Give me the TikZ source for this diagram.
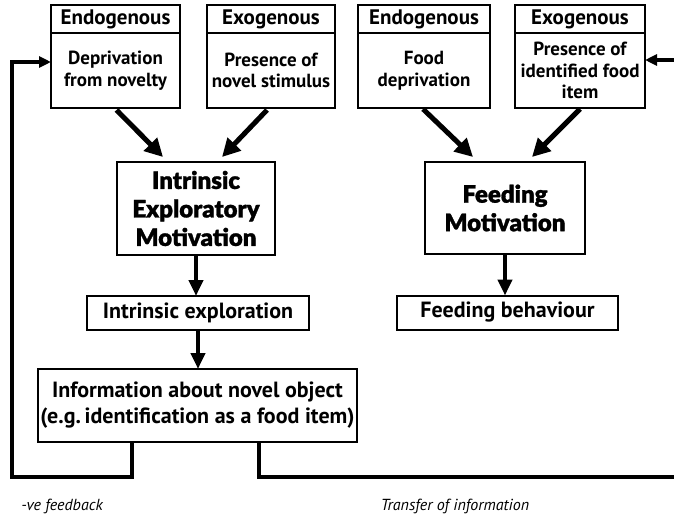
\documentclass[tikz,border=0pt]{standalone}
\usepackage{fontspec}
\setmainfont{PT Sans}
\newfontfamily\heavyfont{Lato Black}[BoldFont={Lato Black}, BoldFeatures={FakeBold=1.2}]
\usepackage{tikz}
\usetikzlibrary{arrows.meta,positioning}

\tikzset{
    box/.style={draw, line width=2pt, outer sep=0pt, inner sep=0pt, align=center,
        font=\bfseries\fontsize{19}{21.5}\selectfont},
    head/.style={box, minimum height=28pt, font=\bfseries\fontsize{21}{22}\selectfont},
    body/.style={box, minimum height=75pt},
    motive/.style={draw, line width=2.6pt, outer sep=0pt, inner sep=0pt, align=center,
        font=\heavyfont\bfseries\fontsize{24}{28.5}\selectfont},
    outcome/.style={box, minimum height=34pt, font=\bfseries\fontsize{22}{26}\selectfont},
    bigarrow/.style={line width=5pt, -{Triangle[length=18pt,width=18pt]}},
    downarrow/.style={line width=4pt, -{Triangle[length=16pt,width=14pt]}},
    infoline/.style={line width=3.4pt, -{Triangle[length=12pt,width=11pt]}},
    tag/.style={font=\itshape\fontsize{16}{18}\selectfont}
}

\begin{document}
\begin{tikzpicture}[x=1pt,y=-1pt]
    \useasboundingbox (0,0) rectangle (674,517);

    \node[head, minimum width=129pt] (endoAhead) at (115.5,19) {Endogenous};
    \node[body, minimum width=129pt, below=0pt of endoAhead] (endoA) {Deprivation\\from novelty};
    \node[head, minimum width=128pt] (exoAhead) at (271,19) {Exogenous};
    \node[body, minimum width=128pt, below=0pt of exoAhead] (exoA) {Presence of\\novel stimulus};
    \node[head, minimum width=132pt] (endoBhead) at (424,19) {Endogenous};
    \node[body, minimum width=132pt, below=0pt of endoBhead] (endoB) {Food\\deprivation};
    \node[head, minimum width=130pt] (exoBhead) at (580,19) {Exogenous};
    \node[body, minimum width=130pt, below=0pt of exoBhead] (exoB) {Presence of\\identified food\\item};

    \node[motive, minimum width=158pt, minimum height=93pt] (motA) at (196,208.5) {Intrinsic\\Exploratory\\Motivation};
    \node[motive, minimum width=160pt, minimum height=92pt] (motB) at (505,208) {Feeding\\Motivation};

    \node[outcome, minimum width=222pt] (explore) at (198,313) {Intrinsic exploration};
    \node[outcome, minimum width=221pt] (behav) at (507.5,312.5) {Feeding behaviour};
    \node[outcome, minimum width=319pt, minimum height=73pt] (info) at (197.5,405.5) {Information about novel object\\(e.g.\,identification as a food item)};

    \coordinate (fbL) at (12,477);
    \coordinate (fbR) at (677,477);

    \draw[bigarrow] ([xshift=1pt,yshift=-2pt]endoA.south) -- ([xshift=-33pt,yshift=5pt]motA.north);
    \draw[bigarrow] ([xshift=-4pt,yshift=-2pt]exoA.south) -- ([xshift=26pt,yshift=5pt]motA.north);
    \draw[bigarrow] ([xshift=-1pt,yshift=-1pt]endoB.south) -- ([xshift=-32pt,yshift=5pt]motB.north);
    \draw[bigarrow] ([yshift=-1pt]exoB.south) -- ([xshift=27pt,yshift=5pt]motB.north);

    \draw[downarrow] (motA.south) -- (motA.south |- explore.north);
    \draw[downarrow] (motB.south) -- (motB.south |- behav.north);
    \draw[downarrow] (explore.south) -- (explore.south |- info.north);

    \draw[infoline] ([xshift=-65.5pt]info.south) |- (fbL) |- ([yshift=8.5pt]endoA.west);
    \draw[infoline] ([xshift=61.5pt]info.south) |- (fbR) |- ([yshift=10.5pt]exoB.east);

    \node[tag] (negfb) at (62,506) {-ve feedback};
    \node[tag] (transfer) at (455,506) {Transfer of information};
\end{tikzpicture}
\end{document}
